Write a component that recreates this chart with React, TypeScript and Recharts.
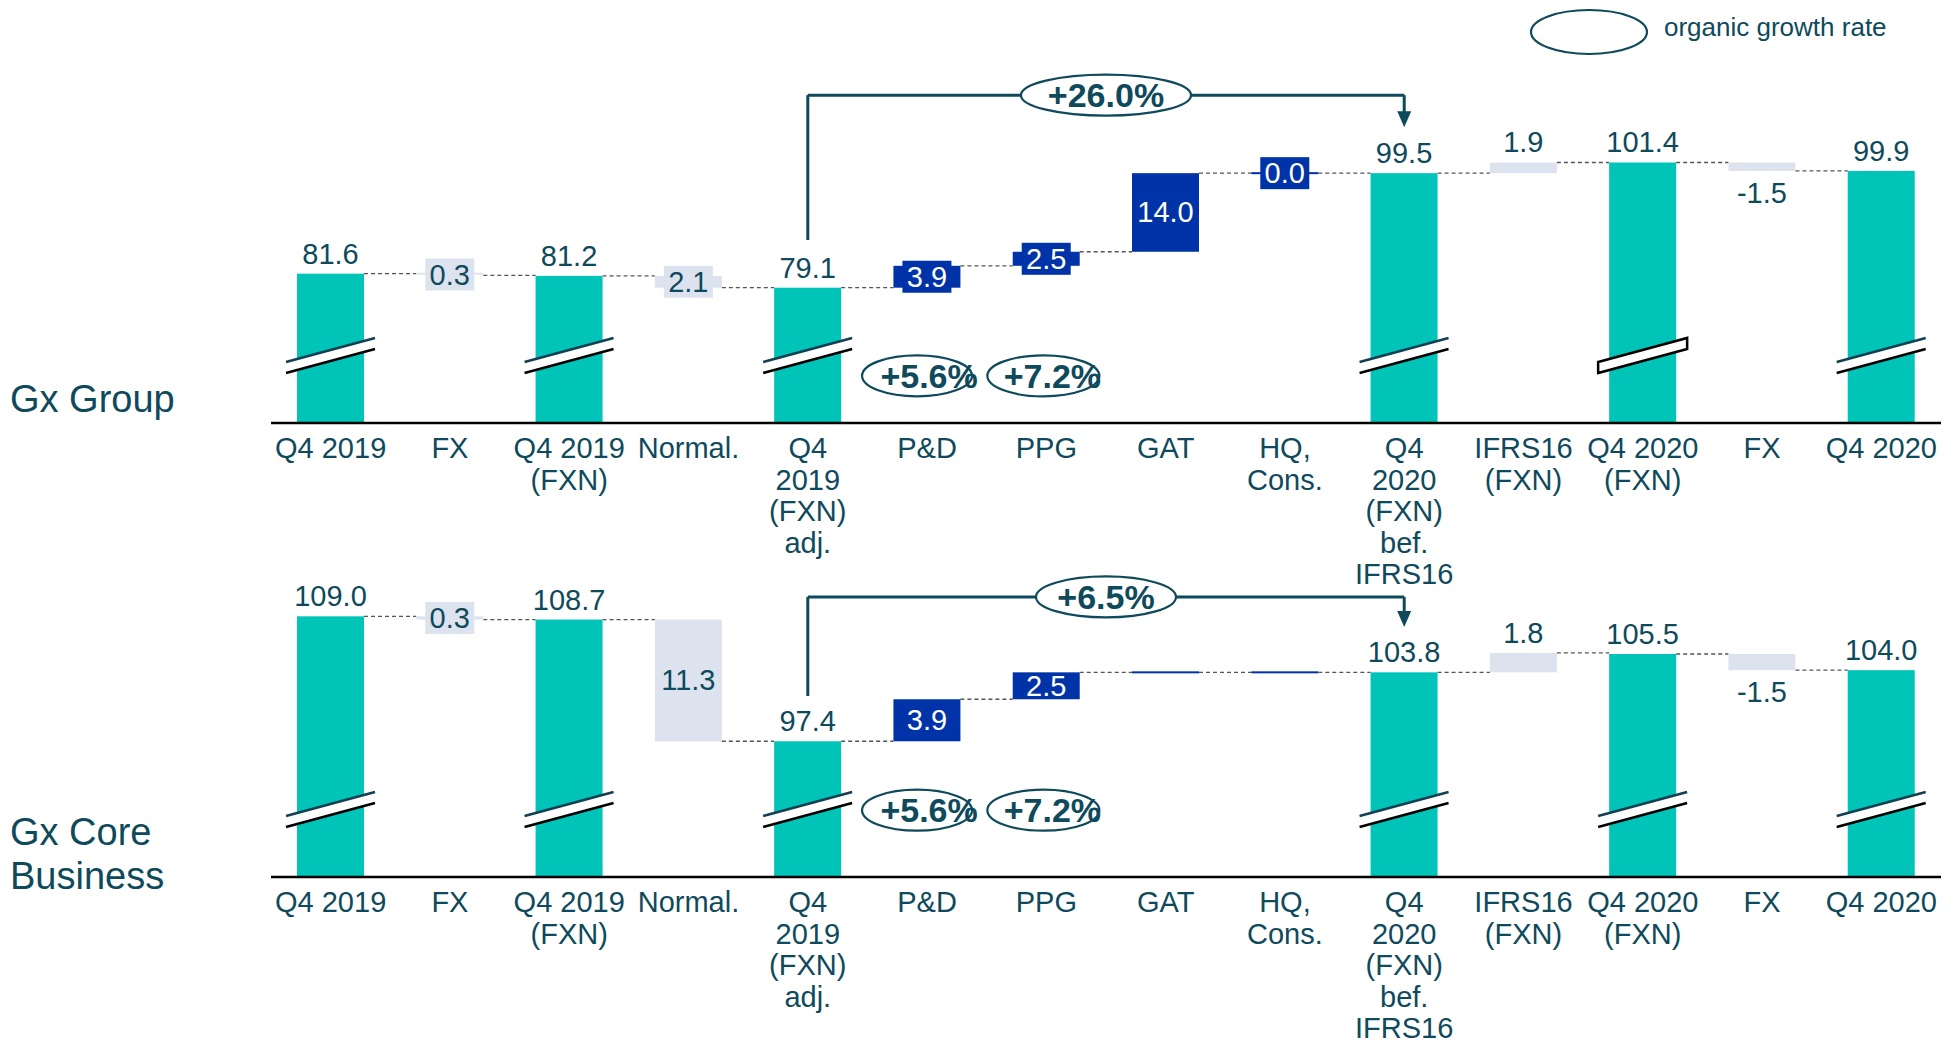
import React from 'react';
import { BarChart, Bar, XAxis, YAxis, ReferenceLine, ReferenceDot } from 'recharts';

const FONT = '"Liberation Sans", Arial, sans-serif';
const INK = '#0e4a5b';
const TEAL = '#00c4b8';
const BLUE = '#0033a7';
const PALE = '#dde3ee';

const CATEGORIES = [
  'Q4 2019',
  'FX',
  'Q4 2019\n(FXN)',
  'Normal.',
  'Q4\n2019\n(FXN)\nadj.',
  'P&D',
  'PPG',
  'GAT',
  'HQ,\nCons.',
  'Q4\n2020\n(FXN)\nbef.\nIFRS16',
  'IFRS16\n(FXN)',
  'Q4 2020\n(FXN)',
  'FX',
  'Q4 2020',
];

// total = full column, driver = organic step, adjustment = FX / normalisation / IFRS16
const STEP_TYPES = [
  'total', 'adjustment', 'total', 'adjustment', 'total', 'driver', 'driver',
  'driver', 'driver', 'total', 'adjustment', 'total', 'adjustment', 'total',
];
const LABEL_SIDES = [
  'above', 'inside', 'above', 'inside', 'above', 'inside', 'inside',
  'inside', 'inside', 'above', 'above', 'above', 'below', 'above',
];

// totals are absolute values, everything else is a change
const GROUP_VALUES = [81.6, -0.3, 81.2, -2.1, 79.1, 3.9, 2.5, 14.0, 0.0, 99.5, 1.9, 101.4, -1.5, 99.9];
const CORE_VALUES = [109.0, -0.3, 108.7, -11.3, 97.4, 3.9, 2.5, 0.0, 0.0, 103.8, 1.8, 105.5, -1.5, 104.0];
const GROUP_UNLABELLED: number[] = [];
const CORE_UNLABELLED = [7, 8];

// [bridge total, P&D, PPG]
const GROUP_GROWTH = ['+26.0%', '+5.6%', '+7.2%'];
const CORE_GROWTH = ['+6.5%', '+5.6%', '+7.2%'];

const CHART_W = 1957;
const PLOT_LEFT = 271;
const PLOT_RIGHT = 16;
const BAND = (CHART_W - PLOT_LEFT - PLOT_RIGHT) / CATEGORIES.length;
const BAR_W = 67;

type Row = {
  id: string;
  range: [number, number];
  type: string;
  side: string;
  rising: boolean;
  label: string;
};

function buildRows(values: number[], unlabelled: number[], axisMin: number): Row[] {
  let level = 0;
  return values.map((v, i) => {
    const type = STEP_TYPES[i];
    const side = LABEL_SIDES[i];
    if (type === 'total') {
      level = v;
      return { id: String(i), range: [axisMin, v], type, side, rising: true, label: v.toFixed(1) };
    }
    const start = level;
    level = start + v;
    const label = unlabelled.includes(i)
      ? ''
      : side === 'below'
        ? v.toFixed(1)
        : Math.abs(v).toFixed(1);
    return {
      id: String(i),
      range: [Math.min(start, level), Math.max(start, level)],
      type,
      side,
      rising: v >= 0,
      label,
    };
  });
}

const CategoryTick = (props: any) => {
  const { x, y, payload } = props;
  const lines = CATEGORIES[Number(payload.value)].split('\n');
  return (
    <text x={x} y={y} textAnchor="middle" fill={INK} fontSize={29} fontFamily={FONT}>
      {lines.map((line, i) => (
        <tspan key={i} x={x} dy={i === 0 ? 35 : 31.5}>
          {line}
        </tspan>
      ))}
    </text>
  );
};

// axis break drawn across every total column
const BreakMark = ({ x, width, bottom, closed }: any) => {
  const l = x - 11;
  const r = x + width + 11;
  const a = [l, bottom - 61, r, bottom - 85];
  const b = [l, bottom - 50, r, bottom - 74];
  const poly = `${a[0]},${a[1]} ${a[2]},${a[3]} ${b[2]},${b[3]} ${b[0]},${b[1]}`;
  if (closed) {
    return <polygon points={poly} fill="#fff" stroke="#000" strokeWidth={2.5} />;
  }
  return (
    <g>
      <polygon points={poly} fill="#fff" />
      <line x1={a[0]} y1={a[1]} x2={a[2]} y2={a[3]} stroke="#123f52" strokeWidth={2.5} />
      <line x1={b[0]} y1={b[1]} x2={b[2]} y2={b[3]} stroke="#000" strokeWidth={2.5} />
    </g>
  );
};

const makeShape = (closedBreaks: number[]) => (props: any) => {
  const { x, y, width, height, payload, index } = props;
  const row = payload as Row;
  const fill = row.type === 'total' ? TEAL : row.type === 'driver' ? BLUE : PALE;
  const flat = height < 2;
  const cx = x + width / 2;
  const endY = row.rising ? y : y + height;
  const isLast = index === CATEGORIES.length - 1;
  const mid = y + height / 2;

  let label: React.ReactNode = null;
  if (row.label) {
    if (row.side === 'above') {
      label = (
        <text x={cx} y={y - 10} textAnchor="middle" fill={INK} fontSize={29} fontFamily={FONT}>
          {row.label}
        </text>
      );
    } else if (row.side === 'below') {
      label = (
        <text x={cx} y={y + height + 32} textAnchor="middle" fill={INK} fontSize={29} fontFamily={FONT}>
          {row.label}
        </text>
      );
    } else {
      const boxed = height < 24;
      label = (
        <g>
          {boxed && <rect x={cx - 24.5} y={mid - 16} width={49} height={32} fill={fill} />}
          <text
            x={cx}
            y={mid + 10}
            textAnchor="middle"
            fill={row.type === 'driver' ? '#fff' : INK}
            fontSize={29}
            fontFamily={FONT}
          >
            {row.label}
          </text>
        </g>
      );
    }
  }

  return (
    <g>
      {!isLast && (
        <line
          x1={x + width}
          y1={endY}
          x2={x + BAND}
          y2={endY}
          stroke="#555"
          strokeWidth={1.3}
          strokeDasharray="4 3"
        />
      )}
      <rect x={x} y={flat ? y - 1 : y} width={width} height={flat ? 2 : height} fill={fill} />
      {row.type === 'total' && (
        <BreakMark x={x} width={width} bottom={y + height} closed={closedBreaks.includes(index)} />
      )}
      {label}
    </g>
  );
};

const Badge = ({ cx, cy, rx, text, textShift = 0 }: any) => (
  <g>
    <ellipse cx={cx} cy={cy} rx={rx} ry={20.5} fill="#fff" stroke={INK} strokeWidth={2.2} />
    <text
      x={cx + textShift}
      y={cy + 12}
      textAnchor="middle"
      fill={INK}
      fontSize={34}
      fontWeight="bold"
      fontFamily={FONT}
    >
      {text}
    </text>
  </g>
);

const ArrowDown = (props: any) => {
  const { x1, y1, x2, y2 } = props;
  return (
    <g>
      <line x1={x1} y1={y1} x2={x2} y2={y2 - 14} stroke={INK} strokeWidth={3} />
      <polygon points={`${x2 - 7},${y2 - 16} ${x2 + 7},${y2 - 16} ${x2},${y2}`} fill={INK} />
    </g>
  );
};

type PanelProps = {
  top: number;
  height: number;
  marginTop: number;
  axisHeight: number;
  domain: [number, number];
  values: number[];
  unlabelled: number[];
  growth: string[];
  bracket: { start: number; level: number; tip: number };
  badgeY: number;
  closedBreaks: number[];
};

const Panel = (p: PanelProps) => {
  const rows = buildRows(p.values, p.unlabelled, p.domain[0]);
  return (
    <div style={{ position: 'absolute', left: 0, top: p.top }}>
      <BarChart
        width={CHART_W}
        height={p.height}
        data={rows}
        margin={{ top: p.marginTop, right: PLOT_RIGHT, bottom: 0, left: PLOT_LEFT }}
      >
        <XAxis
          dataKey="id"
          type="category"
          interval={0}
          height={p.axisHeight}
          tickSize={0}
          tickMargin={0}
          tickLine={false}
          axisLine={{ stroke: '#000', strokeWidth: 2.5 }}
          tick={<CategoryTick />}
        />
        <YAxis hide type="number" domain={p.domain} allowDataOverflow />
        <Bar
          dataKey="range"
          barSize={BAR_W}
          isAnimationActive={false}
          shape={makeShape(p.closedBreaks)}
        />
        <ReferenceLine
          segment={[
            { x: '4', y: p.bracket.start },
            { x: '4', y: p.bracket.level },
          ]}
          stroke={INK}
          strokeWidth={3}
        />
        <ReferenceLine
          segment={[
            { x: '4', y: p.bracket.level },
            { x: '9', y: p.bracket.level },
          ]}
          stroke={INK}
          strokeWidth={3}
        />
        <ReferenceLine
          segment={[
            { x: '9', y: p.bracket.level },
            { x: '9', y: p.bracket.tip },
          ]}
          shape={<ArrowDown />}
        />
        <ReferenceLine
          segment={[
            { x: '6', y: p.bracket.level },
            { x: '7', y: p.bracket.level },
          ]}
          shape={(s: any) => (
            <Badge cx={(s.x1 + s.x2) / 2} cy={s.y1} rx={p.growth[0].length > 5 ? 85 : 70} text={p.growth[0]} />
          )}
        />
        <ReferenceDot
          x="5"
          y={p.badgeY}
          shape={(s: any) => <Badge cx={s.cx - 10} cy={s.cy} rx={55} text={p.growth[1]} textShift={12} />}
        />
        <ReferenceDot
          x="6"
          y={p.badgeY}
          shape={(s: any) => <Badge cx={s.cx - 3} cy={s.cy} rx={56} text={p.growth[2]} textShift={9} />}
        />
      </BarChart>
    </div>
  );
};

export default function App() {
  return (
    <div
      style={{
        position: 'absolute',
        left: 0,
        top: 0,
        width: CHART_W,
        height: 1045,
        background: '#fff',
        overflow: 'hidden',
      }}
    >
      <Panel
        top={0}
        height={600}
        marginTop={30}
        axisHeight={177}
        domain={[55, 125]}
        values={GROUP_VALUES}
        unlabelled={GROUP_UNLABELLED}
        growth={GROUP_GROWTH}
        bracket={{ start: 87.6, level: 113.4, tip: 107.7 }}
        badgeY={63.4}
        closedBreaks={[11]}
      />
      <Panel
        top={560}
        height={485}
        marginTop={10}
        axisHeight={168}
        domain={[84.8, 113.3]}
        values={CORE_VALUES}
        unlabelled={CORE_UNLABELLED}
        growth={CORE_GROWTH}
        bracket={{ start: 101.6, level: 110.8, tip: 108.0 }}
        badgeY={91.0}
        closedBreaks={[]}
      />
      <svg
        width={CHART_W}
        height={1045}
        style={{ position: 'absolute', left: 0, top: 0, pointerEvents: 'none' }}
      >
        <text x={10} y={412} fill={INK} fontSize={38} fontFamily={FONT}>
          Gx Group
        </text>
        <text x={10} y={845} fill={INK} fontSize={38} fontFamily={FONT}>
          Gx Core
        </text>
        <text x={10} y={889} fill={INK} fontSize={38} fontFamily={FONT}>
          Business
        </text>
        <ellipse cx={1589} cy={32} rx={58} ry={22} fill="none" stroke={INK} strokeWidth={2.2} />
        <text x={1664} y={36} fill={INK} fontSize={26} fontFamily={FONT}>
          organic growth rate
        </text>
      </svg>
    </div>
  );
}
